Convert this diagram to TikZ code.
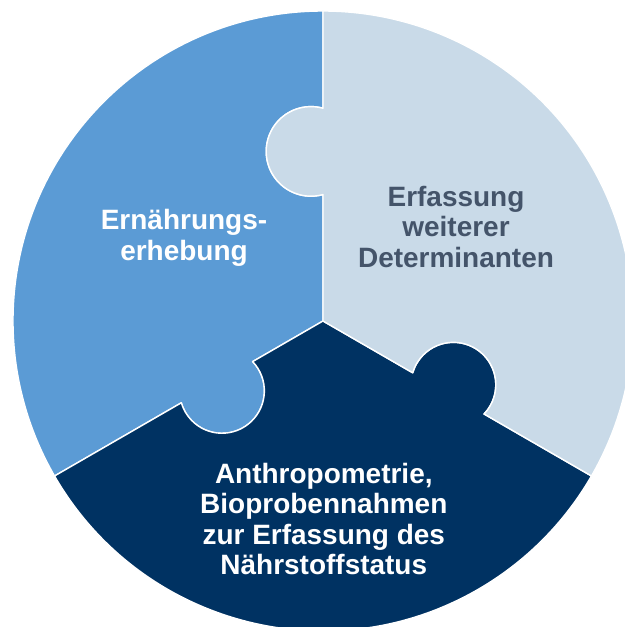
\documentclass[tikz,border=0pt]{standalone}
\usepackage{fontspec}
\setmainfont{Liberation Sans}
\usepackage{xcolor}

\definecolor{pieceblue}{RGB}{91,155,213}
\definecolor{piecelight}{RGB}{201,218,232}
\definecolor{piecedark}{RGB}{0,50,98}
\definecolor{textgrey}{RGB}{68,84,106}

\begin{document}
\begin{tikzpicture}[
  x=1cm,
  y=1cm,
  piece/.style={draw=white,line width=1pt,line join=round},
  bluepiece/.style={piece,fill=pieceblue},
  lightpiece/.style={piece,fill=piecelight},
  darkpiece/.style={piece,fill=piecedark},
  label/.style={align=center,inner sep=0pt,
    font=\fontsize{19.9}{21.6}\selectfont\bfseries}
]
\useasboundingbox (-8.075,-7.65) rectangle (7.55,8.025);

\def\R{7.75}
% puzzle knobs on the three cuts: distance, offset, radius
\def\kNd{4.24}\def\kNo{0.30}\def\kNr{1.12}   % cut at 90
\def\kWd{3.06}\def\kWo{0.25}\def\kWr{1.06}   % cut at 210
\def\kEd{3.62}\def\kEo{0.25}\def\kEr{1.06}   % cut at 330
\pgfmathsetmacro{\kNh}{sqrt(\kNr*\kNr-\kNo*\kNo)}
\pgfmathsetmacro{\kNp}{atan(\kNo/\kNh)}
\pgfmathsetmacro{\kWh}{sqrt(\kWr*\kWr-\kWo*\kWo)}
\pgfmathsetmacro{\kWp}{atan(\kWo/\kWh)}
\pgfmathsetmacro{\kEh}{sqrt(\kEr*\kEr-\kEo*\kEo)}
\pgfmathsetmacro{\kEp}{atan(\kEo/\kEh)}

% left piece
\filldraw[bluepiece] (0,0) -- (90:{\kNd-\kNh})
  arc[start angle={270+\kNp}, end angle={90-\kNp}, radius=\kNr]
  -- (90:\R) arc[start angle=90, end angle=210, radius=\R]
  -- (210:{\kWd+\kWh})
  arc[start angle={210-\kWp}, end angle={390+\kWp}, radius=\kWr] -- cycle;

% bottom piece
\filldraw[darkpiece] (0,0) -- (210:{\kWd-\kWh})
  arc[start angle={390+\kWp}, end angle={210-\kWp}, radius=\kWr]
  -- (210:\R) arc[start angle=210, end angle=330, radius=\R]
  -- (330:{\kEd+\kEh})
  arc[start angle={330-\kEp}, end angle={510+\kEp}, radius=\kEr] -- cycle;

% right piece
\filldraw[lightpiece] (0,0) -- (330:{\kEd-\kEh})
  arc[start angle={510+\kEp}, end angle={330-\kEp}, radius=\kEr]
  -- (330:\R) arc[start angle=330, end angle=450, radius=\R]
  -- (90:{\kNd+\kNh})
  arc[start angle={450-\kNp}, end angle={630+\kNp}, radius=\kNr] -- cycle;

\node[label,text=white,font=\fontsize{19.9}{22.6}\selectfont\bfseries]
  (ernaehrung) at (-3.475,2.08) {Ernährungs-\\erhebung};
\node[label,text=textgrey] (determinanten) at (3.325,2.35)
  {Erfassung\\weiterer\\Determinanten};
\node[label,text=white] (anthropometrie) at (0.02,-4.95)
  {Anthropometrie,\\Bioprobennahmen\\zur Erfassung des\\Nährstoffstatus};

\end{tikzpicture}
\end{document}
